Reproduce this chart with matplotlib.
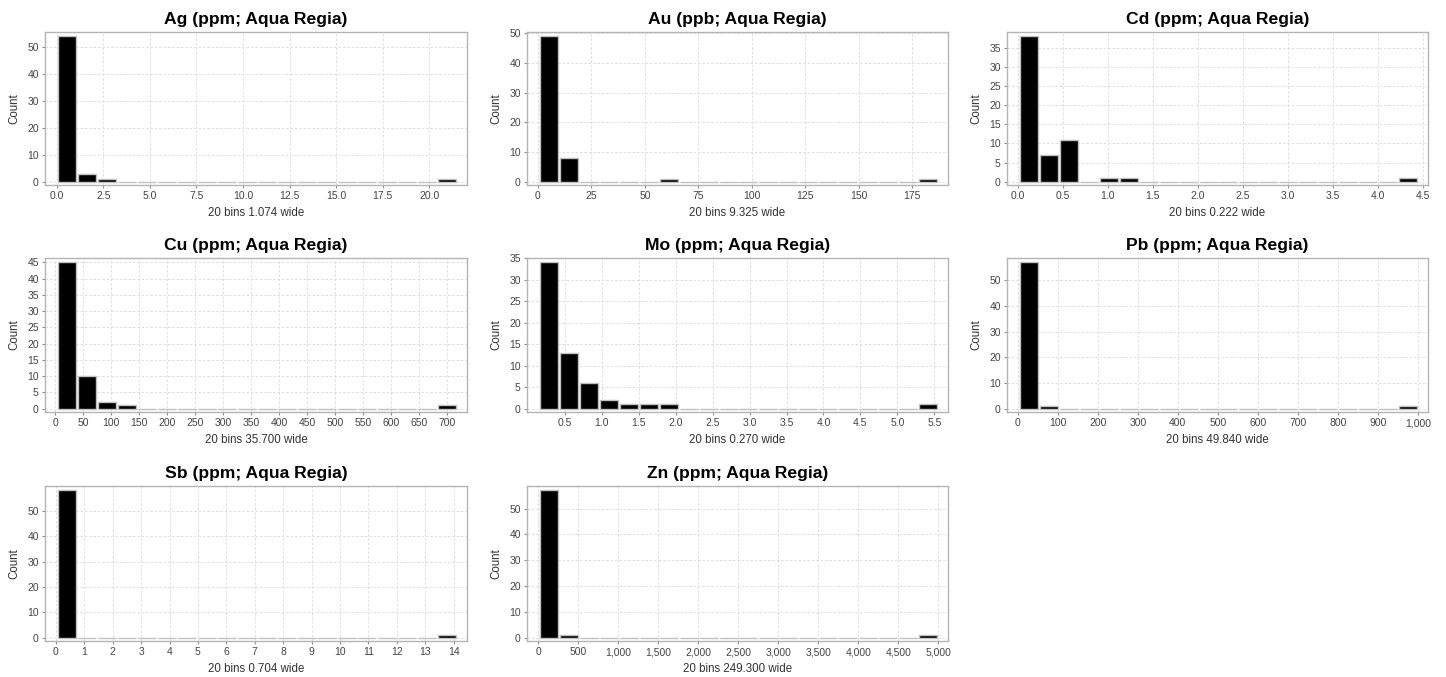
import matplotlib
matplotlib.use("Agg")
import matplotlib.pyplot as plt
from matplotlib.ticker import FixedLocator, FuncFormatter

plt.rcParams['font.family'] = ['Liberation Sans', 'DejaVu Sans']

# ---- data ----
titles = ["Ag (ppm; Aqua Regia)", "Au (ppb; Aqua Regia)", "Cd (ppm; Aqua Regia)",
          "Cu (ppm; Aqua Regia)", "Mo (ppm; Aqua Regia)", "Pb (ppm; Aqua Regia)",
          "Sb (ppm; Aqua Regia)", "Zn (ppm; Aqua Regia)"]
bin_widths = [1.074, 9.325, 0.222, 35.700, 0.270, 49.840, 0.704, 249.300]
bin_mins = [0.01, 0.5, 0.01, 3.0, 0.15, 3.2, 0.04, 10.0]

counts_ag = [54, 3, 1, 0, 0, 0, 0, 0, 0, 0, 0, 0, 0, 0, 0, 0, 0, 0, 0, 1]
counts_au = [49, 8, 0, 0, 0, 0, 1, 0, 0, 0, 0, 0, 0, 0, 0, 0, 0, 0, 0, 1]
counts_cd = [38, 7, 11, 0, 1, 1, 0, 0, 0, 0, 0, 0, 0, 0, 0, 0, 0, 0, 0, 1]
counts_cu = [45, 10, 2, 1, 0, 0, 0, 0, 0, 0, 0, 0, 0, 0, 0, 0, 0, 0, 0, 1]
counts_mo = [34, 13, 6, 2, 1, 1, 1, 0, 0, 0, 0, 0, 0, 0, 0, 0, 0, 0, 0, 1]
counts_pb = [57, 1, 0, 0, 0, 0, 0, 0, 0, 0, 0, 0, 0, 0, 0, 0, 0, 0, 0, 1]
counts_sb = [58, 0, 0, 0, 0, 0, 0, 0, 0, 0, 0, 0, 0, 0, 0, 0, 0, 0, 0, 1]
counts_zn = [57, 1, 0, 0, 0, 0, 0, 0, 0, 0, 0, 0, 0, 0, 0, 0, 0, 0, 0, 1]
all_counts = [counts_ag, counts_au, counts_cd, counts_cu, counts_mo, counts_pb, counts_sb, counts_zn]

xticks_ag = [0.0, 2.5, 5.0, 7.5, 10.0, 12.5, 15.0, 17.5, 20.0]
xticks_au = [0, 25, 50, 75, 100, 125, 150, 175]
xticks_cd = [0.0, 0.5, 1.0, 1.5, 2.0, 2.5, 3.0, 3.5, 4.0, 4.5]
xticks_cu = list(range(0, 701, 50))
xticks_mo = [0.5, 1.0, 1.5, 2.0, 2.5, 3.0, 3.5, 4.0, 4.5, 5.0, 5.5]
xticks_pb = list(range(0, 1001, 100))
xticks_sb = list(range(0, 15))
xticks_zn = list(range(0, 5001, 500))
all_xticks = [xticks_ag, xticks_au, xticks_cd, xticks_cu, xticks_mo, xticks_pb, xticks_sb, xticks_zn]
xfmt = ["{:.1f}", "{:.0f}", "{:.1f}", "{:.0f}", "{:.1f}", "{:,.0f}", "{:.0f}", "{:,.0f}"]

yticks_ag = [0, 10, 20, 30, 40, 50]
yticks_au = [0, 10, 20, 30, 40, 50]
yticks_cd = [0, 5, 10, 15, 20, 25, 30, 35]
yticks_cu = [0, 5, 10, 15, 20, 25, 30, 35, 40, 45]
yticks_mo = [0, 5, 10, 15, 20, 25, 30, 35]
yticks_pb = [0, 10, 20, 30, 40, 50]
yticks_sb = [0, 10, 20, 30, 40, 50]
yticks_zn = [0, 10, 20, 30, 40, 50]
all_yticks = [yticks_ag, yticks_au, yticks_cd, yticks_cu, yticks_mo, yticks_pb, yticks_sb, yticks_zn]

# ---- layout (pixels) ----
W, H = 1446, 677
col_lr = [(45, 467), (527, 948), (1007, 1428)]
row_tb = [(32, 185), (258, 412), (486, 641)]

fig = plt.figure(figsize=(W / 100, H / 100), dpi=100)
fig.patch.set_facecolor('white')

for k in range(8):
    r, c = divmod(k, 3)
    l, rr = col_lr[c]
    t, b = row_tb[r]
    ax = fig.add_axes([l / W, 1 - b / H, (rr - l) / W, (b - t) / H])
    counts = all_counts[k]
    w = bin_widths[k]
    mn = bin_mins[k]
    n = len(counts)
    lefts = [mn + i * w for i in range(n)]
    ax.bar(lefts, counts, width=w * 0.9, align='edge', color='black',
           edgecolor='#c0c0c0', linewidth=1.0, zorder=3)
    # centre bars within the bin (shift by the gap)
    for p in ax.patches:
        p.set_x(p.get_x() + w * 0.05)
    rng = w * n
    ax.set_xlim(mn - 0.03 * rng, mn + rng + 0.025 * rng)
    top = max(counts) * 1.03
    ax.set_ylim(-0.022 * top, top)
    ax.xaxis.set_major_locator(FixedLocator(all_xticks[k]))
    ax.yaxis.set_major_locator(FixedLocator(all_yticks[k]))
    f = xfmt[k]
    ax.xaxis.set_major_formatter(FuncFormatter(lambda v, pos, f=f: f.format(v)))
    ax.grid(True, color='#dddddd', linestyle=(0, (2.5, 2)), linewidth=0.7, zorder=0)
    ax.set_axisbelow(True)
    for s in ax.spines.values():
        s.set_color('#b4b4b4')
        s.set_linewidth(1.0)
    ax.tick_params(axis='both', labelsize=7.5, colors='#444444', length=2.5,
                   width=0.8, pad=2)
    ax.tick_params(axis='both', color='#909090')
    ax.set_title(titles[k], fontsize=12.6, fontweight='bold', pad=6)
    ax.set_ylabel("Count", fontsize=8.3, color='#333333', labelpad=5)
    ax.set_xlabel("20 bins {:.3f} wide".format(w), fontsize=8.3, color='#333333',
                  labelpad=4)

fig.savefig("out.png", dpi=100, facecolor='white')
